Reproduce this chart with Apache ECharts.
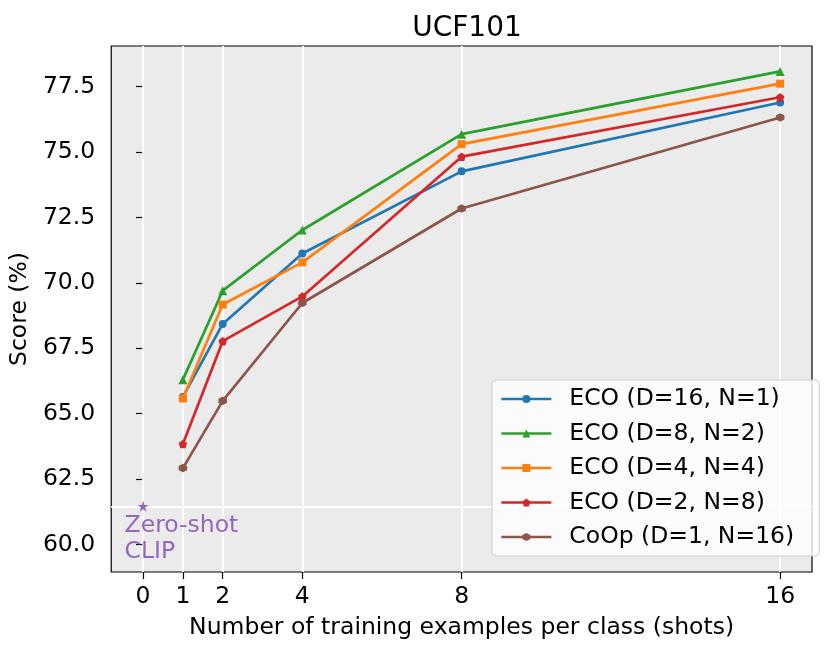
<!DOCTYPE html>
<html>
<head>
<meta charset="utf-8">
<script src="https://cdn.jsdelivr.net/npm/echarts@6/dist/echarts.min.js"></script>
<style>html,body{margin:0;padding:0;background:#fff}#c{width:830px;height:654px}</style>
</head>
<body>
<div id="c"></div>
<script>
const shots = [1, 2, 4, 8, 16];
const xTicks = [0, 1, 2, 4, 8, 16];
const yTicks = [60, 62.5, 65, 67.5, 70, 72.5, 75, 77.5];
const seriesNames = ['ECO (D=16, N=1)', 'ECO (D=8, N=2)', 'ECO (D=4, N=4)', 'ECO (D=2, N=8)', 'CoOp (D=1, N=16)'];
const eco16_1 = [65.64, 68.43, 71.12, 74.26, 76.89];
const eco8_2  = [66.30, 69.70, 72.02, 75.68, 78.08];
const eco4_4  = [65.58, 69.17, 70.78, 75.30, 77.61];
const eco2_8  = [63.84, 67.77, 69.48, 74.82, 77.09];
const coop1_16 = [62.92, 65.49, 69.23, 72.84, 76.32];
const zeroShot = 61.46;

const colors = ['#1f77b4', '#2ca02c', '#ff7f0e', '#d62728', '#8c564b'];
const pentagon = 'path://M0,-1L0.951,-0.309L0.588,0.809L-0.588,0.809L-0.951,-0.309Z';
const hexagon = 'path://M0,-1L0.866,-0.5L0.866,0.5L0,1L-0.866,0.5L-0.866,-0.5Z';
const star = 'path://M0,-1L0.2245,-0.309L0.951,-0.309L0.363,0.118L0.588,0.809L0,0.382L-0.588,0.809L-0.363,0.118L-0.951,-0.309L-0.2245,-0.309Z';
const symbols = ['circle', 'triangle', 'rect', pentagon, hexagon];
const sizes = [8, 9, 8, 8.5, 8.5];
const allData = [eco16_1, eco8_2, eco4_4, eco2_8, coop1_16];
const font = 'DejaVu Sans';
const fs = 23.5;

const chart = echarts.init(document.getElementById('c'), null, {renderer: 'canvas'});

const series = [{
  type: 'line', data: [], z: 1, silent: true,
  markLine: {
    silent: true, symbol: 'none', z: 1, label: {show: false}, animation: false,
    lineStyle: {color: '#ffffff', width: 1.8, type: 'solid'},
    data: xTicks.map(v => ({xAxis: v})).concat([{yAxis: zeroShot}])
  }
}];
allData.forEach((d, i) => {
  series.push({
    name: seriesNames[i], type: 'line',
    data: shots.map((s, j) => [s, d[j]]),
    symbol: symbols[i], symbolSize: sizes[i], showAllSymbol: true,
    lineStyle: {color: colors[i], width: 2.7},
    itemStyle: {color: colors[i], borderWidth: 0, opacity: 1},
    z: 3 + i
  });
});
series.push({
  type: 'scatter', data: [[0, zeroShot]], symbol: star, symbolSize: 11,
  itemStyle: {color: '#9467bd', opacity: 1}, z: 3,
  label: {
    show: true, formatter: 'Zero-shot\nCLIP', position: [-13, 12], align: 'left', verticalAlign: 'top',
    color: '#9467bd', fontFamily: font, fontSize: fs, lineHeight: 26
  }
});

chart.setOption({
  animation: false,
  backgroundColor: '#ffffff',
  title: {
    text: 'UCF101', left: 462, top: 10, textAlign: 'center',
    textStyle: {fontFamily: font, fontSize: 28, fontWeight: 'normal', color: '#000'}
  },
  grid: {
    left: 111, right: 18, top: 46, bottom: 82, show: true,
    backgroundColor: '#ebebeb', borderColor: '#000', borderWidth: 1.2
  },
  legend: {
    data: seriesNames, orient: 'vertical', left: 492, top: 380,
    itemWidth: 50, itemHeight: 10, itemGap: 10.5,
    padding: [7, 25, 7, 8],
    lineStyle: {width: 2.7},
    backgroundColor: 'rgba(255,255,255,0.8)', borderColor: '#cccccc', borderWidth: 1, borderRadius: 4,
    textStyle: {fontFamily: font, fontSize: fs, color: '#000', padding: [0, 0, 0, 13]}
  },
  xAxis: {
    type: 'value', min: -0.8, max: 16.8,
    name: 'Number of training examples per class (shots)', nameLocation: 'middle', nameGap: 44,
    nameTextStyle: {fontFamily: font, fontSize: fs, color: '#000'},
    axisLine: {show: false},
    axisTick: {show: true, customValues: xTicks, length: 7, lineStyle: {color: '#000', width: 1.2}},
    axisLabel: {customValues: xTicks, fontFamily: font, fontSize: fs, color: '#000', margin: 13},
    splitLine: {show: false}
  },
  yAxis: {
    type: 'value', min: 58.95, max: 79.05,
    name: 'Score (%)', nameLocation: 'middle', nameGap: 74, nameRotate: 90,
    nameTextStyle: {fontFamily: font, fontSize: fs, color: '#000'},
    axisLine: {show: false},
    axisTick: {show: true, customValues: yTicks, length: 7, lineStyle: {color: '#000', width: 1.2}},
    axisLabel: {customValues: yTicks, formatter: v => v.toFixed(1), fontFamily: font, fontSize: fs, color: '#000', margin: 16},
    splitLine: {show: false}
  },
  series: series
});
</script>
</body>
</html>
